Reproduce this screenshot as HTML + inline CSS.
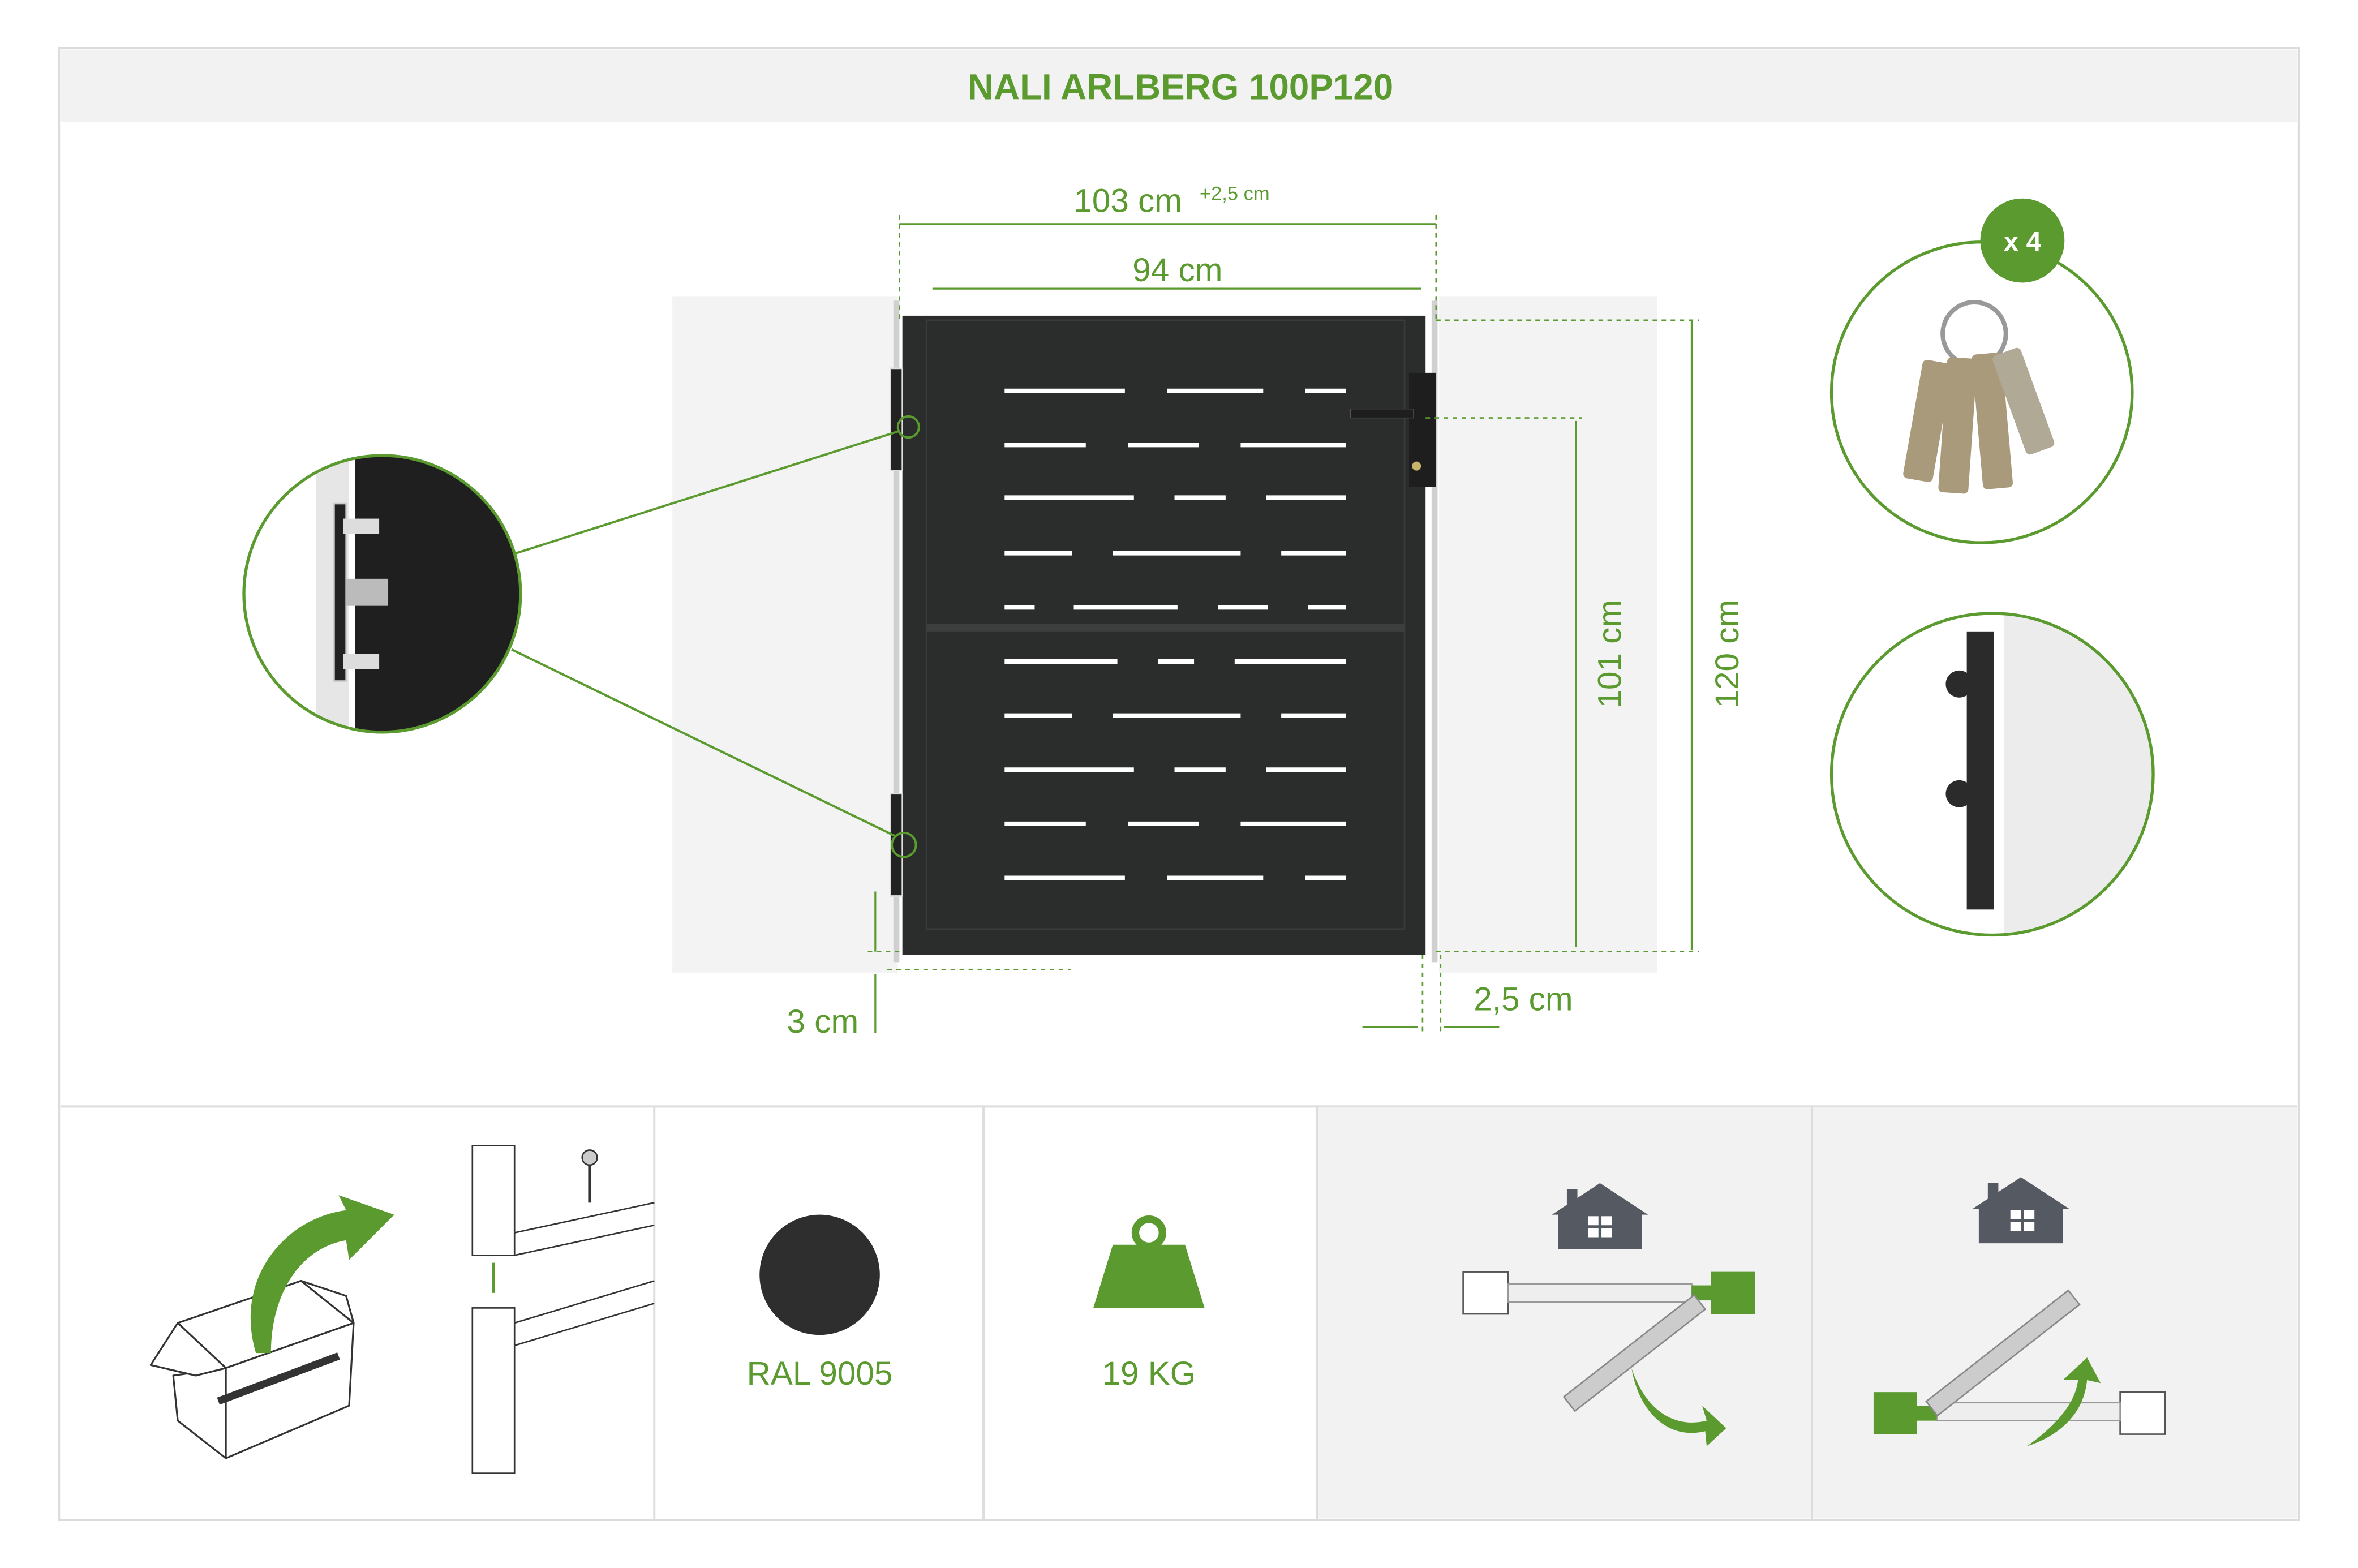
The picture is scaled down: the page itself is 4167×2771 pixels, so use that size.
<!DOCTYPE html>
<html><head><meta charset="utf-8"><style>
html,body{margin:0;padding:0;background:#fff;}
svg{display:block;}
text{font-family:"Liberation Sans",sans-serif;}
</style></head><body>
<svg width="4167" height="2771" viewBox="0 0 1568 1043" xmlns="http://www.w3.org/2000/svg">
<rect width="1568" height="1043" fill="#fff"/>
<rect x="39" y="32" width="1490" height="979" fill="#fff" stroke="#dcdcdc" stroke-width="1.5"/>
<rect x="40" y="33" width="1488" height="48" fill="#f2f2f2"/>
<text x="785" y="66" text-anchor="middle" font-size="24" font-weight="bold" fill="#5a9a2e">NALI ARLBERG 100P120</text>

<!-- posts -->
<rect x="447" y="197" width="150" height="450" fill="#f3f3f3"/>
<rect x="957" y="197" width="145" height="450" fill="#f3f3f3"/>
<rect x="594" y="200" width="4" height="440" fill="#d0d0d0"/>
<rect x="952" y="200" width="4" height="440" fill="#d0d0d0"/>

<!-- gate -->
<rect x="600" y="210" width="348" height="425" fill="#2b2d2c"/>
<rect x="616" y="213" width="318" height="405" fill="none" stroke="#3a3c3b" stroke-width="1"/>
<rect x="616" y="415" width="318" height="5" fill="#3d3f3e"/>
<g stroke="#fff" stroke-width="3">
<line x1="668" y1="260" x2="748" y2="260"/><line x1="776" y1="260" x2="840" y2="260"/><line x1="868" y1="260" x2="895" y2="260"/>
<line x1="668" y1="296" x2="722" y2="296"/><line x1="750" y1="296" x2="797" y2="296"/><line x1="825" y1="296" x2="895" y2="296"/>
<line x1="668" y1="331" x2="754" y2="331"/><line x1="781" y1="331" x2="815" y2="331"/><line x1="842" y1="331" x2="895" y2="331"/>
<line x1="668" y1="368" x2="713" y2="368"/><line x1="740" y1="368" x2="825" y2="368"/><line x1="852" y1="368" x2="895" y2="368"/>
<line x1="668" y1="404" x2="688" y2="404"/><line x1="714" y1="404" x2="783" y2="404"/><line x1="810" y1="404" x2="843" y2="404"/><line x1="870" y1="404" x2="895" y2="404"/>
<line x1="668" y1="440" x2="743" y2="440"/><line x1="770" y1="440" x2="794" y2="440"/><line x1="821" y1="440" x2="895" y2="440"/>
<line x1="668" y1="476" x2="713" y2="476"/><line x1="740" y1="476" x2="825" y2="476"/><line x1="852" y1="476" x2="895" y2="476"/>
<line x1="668" y1="512" x2="754" y2="512"/><line x1="781" y1="512" x2="815" y2="512"/><line x1="842" y1="512" x2="895" y2="512"/>
<line x1="668" y1="548" x2="722" y2="548"/><line x1="750" y1="548" x2="797" y2="548"/><line x1="825" y1="548" x2="895" y2="548"/>
<line x1="668" y1="584" x2="748" y2="584"/><line x1="776" y1="584" x2="840" y2="584"/><line x1="868" y1="584" x2="895" y2="584"/>
</g>
<!-- lock -->
<rect x="937" y="248" width="18" height="76" fill="#1e1e1e"/>
<rect x="898" y="272" width="42" height="6" fill="#1e1e1e" stroke="#555" stroke-width="0.5"/>
<circle cx="942" cy="310" r="3" fill="#c9b36a"/>
<!-- hinges -->
<g fill="#222" stroke="#ddd" stroke-width="1">
<rect x="592" y="245" width="8" height="68"/><rect x="592" y="528" width="8" height="68"/>
</g>
<circle cx="604" cy="284" r="7" fill="none" stroke="#5a9a2e" stroke-width="1.5"/>
<circle cx="601" cy="562" r="8" fill="none" stroke="#5a9a2e" stroke-width="1.5"/>

<!-- zoom circle left -->
<line x1="343" y1="368" x2="597" y2="287" stroke="#5a9a2e" stroke-width="1.5"/>
<line x1="340" y1="432" x2="595" y2="556" stroke="#5a9a2e" stroke-width="1.5"/>
<clipPath id="c1"><circle cx="254" cy="395" r="92"/></clipPath>
<g clip-path="url(#c1)">
<rect x="150" y="300" width="210" height="200" fill="#fff"/>
<rect x="210" y="300" width="22" height="200" fill="#e6e6e6"/>
<rect x="236" y="300" width="130" height="200" fill="#1f1f1f"/>
<rect x="222" y="335" width="8" height="118" fill="#222" stroke="#ccc"/>
<rect x="228" y="345" width="24" height="10" fill="#ddd"/><rect x="228" y="435" width="24" height="10" fill="#ddd"/>
<rect x="230" y="385" width="28" height="18" fill="#bbb"/>
</g>
<circle cx="254" cy="395" r="92" fill="none" stroke="#5a9a2e" stroke-width="2"/>

<!-- keys circle -->
<circle cx="1318" cy="261" r="100" fill="#fff" stroke="#5a9a2e" stroke-width="2"/>
<circle cx="1345" cy="160" r="28" fill="#5a9a2e"/>
<text x="1345" y="167" text-anchor="middle" font-size="18" font-weight="bold" fill="#fff">x 4</text>
<circle cx="1313" cy="222" r="21" fill="none" stroke="#999" stroke-width="3"/>
<g fill="#a99a7c">
<rect x="1272" y="240" width="20" height="80" rx="3" transform="rotate(10 1282 280)"/>
<rect x="1292" y="238" width="20" height="90" rx="3" transform="rotate(4 1302 283)"/>
<rect x="1315" y="235" width="20" height="90" rx="3" transform="rotate(-5 1325 280)"/>
<rect x="1335" y="232" width="20" height="70" rx="3" transform="rotate(-20 1345 265)" fill="#b0a996"/>
</g>

<!-- latch circle -->
<clipPath id="c2"><circle cx="1325" cy="515" r="107"/></clipPath>
<g clip-path="url(#c2)">
<rect x="1210" y="400" width="240" height="230" fill="#fff"/>
<rect x="1333" y="400" width="120" height="230" fill="#ececec"/>
<rect x="1308" y="420" width="18" height="185" fill="#2b2b2b"/>
<circle cx="1303" cy="455" r="9" fill="#2b2b2b"/><circle cx="1303" cy="528" r="9" fill="#2b2b2b"/>
</g>
<circle cx="1325" cy="515" r="107" fill="none" stroke="#5a9a2e" stroke-width="2"/>

<!-- dimensions -->
<g stroke="#5a9a2e" stroke-width="1.2" fill="none">
<line x1="598" y1="149" x2="955" y2="149"/>
<line x1="620" y1="192" x2="945" y2="192"/>
<line x1="1048" y1="280" x2="1048" y2="630"/>
<line x1="1125" y1="213" x2="1125" y2="632"/>
<line x1="582" y1="593" x2="582" y2="633"/>
<line x1="582" y1="648" x2="582" y2="687"/>
<line x1="906" y1="683" x2="943" y2="683"/>
<line x1="960" y1="683" x2="997" y2="683"/>
</g>
<g stroke="#5a9a2e" stroke-width="1" stroke-dasharray="3,3" fill="none">
<line x1="598" y1="143" x2="598" y2="215"/><line x1="955" y1="143" x2="955" y2="215"/>
<line x1="955" y1="213" x2="1130" y2="213"/><line x1="948" y1="278" x2="1052" y2="278"/>
<line x1="955" y1="633" x2="1130" y2="633"/><line x1="577" y1="633" x2="600" y2="633"/>
<line x1="590" y1="645" x2="712" y2="645"/>
<line x1="946" y1="635" x2="946" y2="688"/><line x1="958" y1="635" x2="958" y2="688"/>
</g>
<text x="750" y="141" text-anchor="middle" font-size="22" fill="#5a9a2e">103 cm</text>
<text x="821" y="133" text-anchor="middle" font-size="13" fill="#5a9a2e">+2,5 cm</text>
<text x="783" y="187" text-anchor="middle" font-size="22" fill="#5a9a2e">94 cm</text>
<text x="1078" y="435" text-anchor="middle" font-size="22" fill="#5a9a2e" transform="rotate(-90 1078 435)">101 cm</text>
<text x="1156" y="435" text-anchor="middle" font-size="22" fill="#5a9a2e" transform="rotate(-90 1156 435)">120 cm</text>
<text x="547" y="687" text-anchor="middle" font-size="22" fill="#5a9a2e">3 cm</text>
<text x="1013" y="672" text-anchor="middle" font-size="22" fill="#5a9a2e">2,5 cm</text>

<!-- bottom -->
<line x1="40" y1="736" x2="1528" y2="736" stroke="#ddd" stroke-width="1.5"/>
<rect x="876" y="737" width="652" height="273" fill="#f2f2f2"/>
<g stroke="#ddd" stroke-width="1.5">
<line x1="435" y1="736" x2="435" y2="1011"/><line x1="654" y1="736" x2="654" y2="1011"/>
<line x1="876" y1="736" x2="876" y2="1011"/><line x1="1205" y1="736" x2="1205" y2="1011"/>
</g>
<!-- box -->
<g stroke="#333" stroke-width="1.2" fill="#fff" stroke-linejoin="round">
<polygon points="118,880 200,852 235,880 150,910"/>
<polygon points="115,915 150,910 150,970 118,945"/>
<polygon points="150,910 235,880 232,935 150,970"/>
<polygon points="118,880 100,908 130,915 150,910"/>
<polygon points="200,852 230,862 235,880"/>
</g>
<line x1="145" y1="932" x2="225" y2="902" stroke="#333" stroke-width="5"/>
<path d="M170,900 C155,850 190,810 230,805 L225,795 L262,808 L232,838 L230,825 C200,830 180,860 180,900Z" fill="#5a9a2e"/>
<!-- post assembly -->
<g stroke="#333" stroke-width="1" fill="none">
<rect x="314" y="762" width="28" height="73"/><rect x="314" y="870" width="28" height="110"/>
<line x1="342" y1="820" x2="435" y2="800"/><line x1="342" y1="835" x2="435" y2="815"/>
<line x1="342" y1="880" x2="435" y2="852"/><line x1="342" y1="895" x2="435" y2="867"/>
</g>
<ellipse cx="392" cy="770" rx="5" ry="5" fill="#ccc" stroke="#333"/>
<line x1="392" y1="775" x2="392" y2="800" stroke="#333" stroke-width="2"/>
<line x1="328" y1="840" x2="328" y2="860" stroke="#5a9a2e" stroke-width="1.5"/>
<!-- RAL -->
<circle cx="545" cy="848" r="40" fill="#2e2e2e"/>
<text x="545" y="921" text-anchor="middle" font-size="22" fill="#5a9a2e">RAL 9005</text>
<!-- weight -->
<circle cx="764" cy="820" r="9" fill="none" stroke="#5a9a2e" stroke-width="5"/>
<polygon points="740,828 788,828 801,870 727,870" fill="#5a9a2e"/>
<text x="764" y="921" text-anchor="middle" font-size="22" fill="#5a9a2e">19 KG</text>
<!-- houses -->
<g fill="#555a62">
<polygon points="1064,787 1032,808 1096,808"/><rect x="1036" y="806" width="56" height="25"/><rect x="1042" y="791" width="7" height="12"/>
<polygon points="1344,783 1312,804 1376,804"/><rect x="1316" y="802" width="56" height="25"/><rect x="1322" y="787" width="7" height="12"/>
</g>
<g fill="#fff"><rect x="1056" y="809" width="7" height="6"/><rect x="1065" y="809" width="7" height="6"/><rect x="1056" y="817" width="7" height="6"/><rect x="1065" y="817" width="7" height="6"/>
<rect x="1337" y="805" width="7" height="6"/><rect x="1346" y="805" width="7" height="6"/><rect x="1337" y="813" width="7" height="6"/><rect x="1346" y="813" width="7" height="6"/></g>
<!-- opening 1 -->
<rect x="973" y="846" width="30" height="28" fill="#fff" stroke="#555"/>
<rect x="1003" y="854" width="122" height="12" fill="#eee" stroke="#999"/>
<rect x="1138" y="846" width="29" height="28" fill="#5a9a2e"/>
<rect x="1125" y="855" width="13" height="10" fill="#5a9a2e"/>
<rect x="1032" y="894" width="110" height="12" fill="#ccc" stroke="#888" transform="rotate(-38 1087 900)"/>
<path d="M1085,910 C1095,940 1115,950 1135,945 L1132,935 L1148,950 L1135,962 L1134,952 C1110,958 1090,940 1085,910Z" fill="#5a9a2e"/>
<!-- opening 2 -->
<rect x="1410" y="926" width="30" height="28" fill="#fff" stroke="#555"/>
<rect x="1288" y="933" width="122" height="12" fill="#eee" stroke="#999"/>
<rect x="1246" y="926" width="29" height="28" fill="#5a9a2e"/>
<rect x="1275" y="935" width="13" height="10" fill="#5a9a2e"/>
<rect x="1272" y="894" width="120" height="12" fill="#ccc" stroke="#888" transform="rotate(-38 1332 900)"/>
<path d="M1348,962 C1365,950 1380,935 1382,918 L1372,918 L1388,903 L1397,920 L1388,918 C1386,940 1370,955 1348,962Z" fill="#5a9a2e"/>
</svg>
</body></html>
